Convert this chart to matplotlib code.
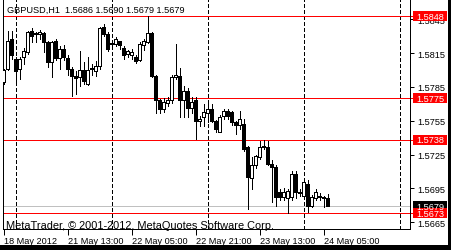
import numpy as np
import matplotlib.pyplot as plt
from matplotlib.patches import Rectangle

plt.rcParams['font.family'] = ['Liberation Sans', 'DejaVu Sans']

# GBPUSD H1 bars, 20 May 21:00 .. 24 May 06:00
opens = [1.5789, 1.5801, 1.5828, 1.5810, 1.5801, 1.5812, 1.5816, 1.5835, 1.5832, 1.5832,
         1.5833, 1.5825, 1.5807, 1.5826, 1.5811, 1.5819, 1.5811, 1.5801, 1.5795, 1.5794,
         1.5800, 1.5788, 1.5802, 1.5799, 1.5804, 1.5838, 1.5832, 1.5824, 1.5823, 1.5826,
         1.5820, 1.5814, 1.5813, 1.5812, 1.5809, 1.5822, 1.5825, 1.5833, 1.5795, 1.5773,
         1.5765, 1.5771, 1.5773, 1.5794, 1.5795, 1.5773, 1.5781, 1.5766, 1.5773, 1.5755,
         1.5758, 1.5762, 1.5765, 1.5755, 1.5745, 1.5759, 1.5764, 1.5763, 1.5754, 1.5751,
         1.5752, 1.5732, 1.5704, 1.5716, 1.5723, 1.5732, 1.5732, 1.5717, 1.5714, 1.5692,
         1.5687, 1.5686, 1.5687, 1.5708, 1.5691, 1.5688, 1.5699, 1.5679, 1.5686, 1.5688,
         1.5687, 1.5686]
highs = [1.5801, 1.5835, 1.5835, 1.5812, 1.5812, 1.5820, 1.5835, 1.5837, 1.5834, 1.5836,
         1.5834, 1.5826, 1.5826, 1.5828, 1.5821, 1.5822, 1.5813, 1.5803, 1.5799, 1.5817,
         1.5807, 1.5812, 1.5805, 1.5808, 1.5838, 1.5841, 1.5834, 1.5827, 1.5829, 1.5826,
         1.5821, 1.5818, 1.5819, 1.5813, 1.5825, 1.5828, 1.5848, 1.5834, 1.5796, 1.5774,
         1.5775, 1.5776, 1.5796, 1.5823, 1.5802, 1.5786, 1.5784, 1.5776, 1.5776, 1.5759,
         1.5770, 1.5770, 1.5770, 1.5756, 1.5760, 1.5765, 1.5765, 1.5764, 1.5755, 1.5764,
         1.5757, 1.5733, 1.5723, 1.5725, 1.5737, 1.5738, 1.5737, 1.5720, 1.5716, 1.5694,
         1.5695, 1.5694, 1.5710, 1.5710, 1.5694, 1.5702, 1.5702, 1.5689, 1.5694, 1.5691,
         1.5688, 1.5690]
lows = [1.5788, 1.5800, 1.5810, 1.5790, 1.5792, 1.5805, 1.5814, 1.5825, 1.5825, 1.5828,
        1.5816, 1.5803, 1.5794, 1.5809, 1.5801, 1.5809, 1.5796, 1.5777, 1.5779, 1.5786,
        1.5788, 1.5787, 1.5796, 1.5795, 1.5801, 1.5830, 1.5817, 1.5820, 1.5821, 1.5819,
        1.5810, 1.5812, 1.5810, 1.5806, 1.5808, 1.5818, 1.5824, 1.5794, 1.5762, 1.5762,
        1.5763, 1.5768, 1.5771, 1.5792, 1.5758, 1.5758, 1.5758, 1.5762, 1.5739, 1.5750,
        1.5750, 1.5754, 1.5754, 1.5745, 1.5745, 1.5757, 1.5757, 1.5751, 1.5743, 1.5748,
        1.5728, 1.5677, 1.5694, 1.5713, 1.5721, 1.5730, 1.5716, 1.5683, 1.5679, 1.5685,
        1.5685, 1.5673, 1.5685, 1.5686, 1.5688, 1.5687, 1.5674, 1.5678, 1.5685, 1.5685,
        1.5678, 1.5679]
closes = [1.5800, 1.5826, 1.5813, 1.5799, 1.5810, 1.5817, 1.5834, 1.5830, 1.5833, 1.5834,
          1.5825, 1.5807, 1.5825, 1.5811, 1.5819, 1.5812, 1.5801, 1.5795, 1.5793, 1.5800,
          1.5790, 1.5800, 1.5801, 1.5804, 1.5837, 1.5832, 1.5819, 1.5823, 1.5828, 1.5822,
          1.5813, 1.5817, 1.5816, 1.5808, 1.5823, 1.5826, 1.5833, 1.5795, 1.5773, 1.5765,
          1.5772, 1.5773, 1.5794, 1.5796, 1.5773, 1.5781, 1.5766, 1.5772, 1.5755, 1.5757,
          1.5763, 1.5765, 1.5755, 1.5748, 1.5758, 1.5764, 1.5759, 1.5754, 1.5751, 1.5757,
          1.5730, 1.5705, 1.5716, 1.5724, 1.5732, 1.5733, 1.5717, 1.5714, 1.5687, 1.5687,
          1.5692, 1.5693, 1.5708, 1.5692, 1.5692, 1.5701, 1.5679, 1.5687, 1.5692, 1.5687,
          1.5686, 1.5679]

red_levels = [1.5848, 1.5775, 1.5738, 1.5673]
bid = 1.5679
day_starts = [3, 27, 51, 75, 99]
xtick_pos = [0, 16, 32, 48, 64, 80]
xtick_labels = ['18 May 2012', '21 May 13:00', '22 May 05:00', '22 May 21:00',
                '23 May 13:00', '24 May 05:00']
ytick_vals = [1.5665, 1.5695, 1.5725, 1.5755, 1.5785, 1.5815, 1.5845]
title = 'GBPUSD,H1  1.5686 1.5690 1.5679 1.5679'

W, H = 451, 251
fig = plt.figure(figsize=(W / 100, H / 100), dpi=100)
ax = fig.add_axes([2.5 / W, 21 / H, 407.5 / W, 230 / H])
ax.set_xlim(-0.3, 101.6)
ax.set_ylim(1.56589, 1.58631)

px = 0.72  # one pixel in points
x = np.arange(len(opens))
o = np.array(opens); c = np.array(closes)
ax.vlines(x, lows, highs, color='black', lw=px, zorder=3, antialiased=False)
bottoms = np.minimum(o, c)
heights = np.maximum(np.abs(c - o), 0.00003)
colors = ['white' if cc > oo else 'black' for oo, cc in zip(o, c)]
ax.bar(x, heights, bottom=bottoms, width=0.62, color=colors, edgecolor='black',
       lw=px, zorder=4, antialiased=False)

for d in day_starts:
    ax.axvline(d, color='black', lw=px, ls=(0, (3, 2.5)), zorder=1, antialiased=False)

ytr = ax.get_yaxis_transform()
for lvl in red_levels:
    ax.plot([0, 1.01], [lvl, lvl], color='red', lw=px, transform=ytr, clip_on=False,
            zorder=2, antialiased=False)
ax.plot([0, 1.0], [bid, bid], color='#c0c0c0', lw=px, transform=ytr, zorder=2,
        antialiased=False)

# axes look
for s in ['top']:
    ax.spines[s].set_visible(False)
for s in ['left', 'right', 'bottom']:
    ax.spines[s].set_linewidth(px)
ax.yaxis.tick_right()
ax.set_yticks(ytick_vals)
ax.set_yticklabels(['%.4f' % v for v in ytick_vals])
ax.tick_params(axis='y', length=3, width=px, pad=2, labelsize=6.6)
ax.set_xticks(xtick_pos)
ax.set_xticklabels(xtick_labels, ha='left')
ax.tick_params(axis='x', length=4, width=px, pad=1, labelsize=6.6)
for lab in ax.get_xticklabels():
    lab.set_x(0)

# price boxes on the right
fig.canvas.draw()
def price_box(val, fc):
    yd = ax.transData.transform((0, val))[1]
    fig.add_artist(Rectangle((413 / 100, (yd - 5) / 100), 34 / 100, 10 / 100,
                             transform=fig.dpi_scale_trans, fc=fc, ec='none'))
    fig.text(430 / 100, yd / 100, '%.4f' % val, transform=fig.dpi_scale_trans,
             color='white', fontsize=6.6, ha='center', va='center')

price_box(bid, 'black')
for lvl in red_levels:
    price_box(lvl, 'red')

fig.text(7 / W, 1 - 13.3 / H, title, fontsize=6.6, va='baseline')
fig.text(6 / W, 21.5 / H, 'MetaTrader, \u00a9 2001-2012, MetaQuotes Software Corp.',
         fontsize=7.9, va='baseline')

# frame shadow on right and bottom
fig.add_artist(Rectangle((448 / W, 0), 3 / W, 1, transform=fig.transFigure,
                         fc='black', ec='none'))
fig.add_artist(Rectangle((0, 0), 1, 5.5 / H, transform=fig.transFigure,
                         fc='black', ec='none'))

fig.savefig('out.png', dpi=100)
